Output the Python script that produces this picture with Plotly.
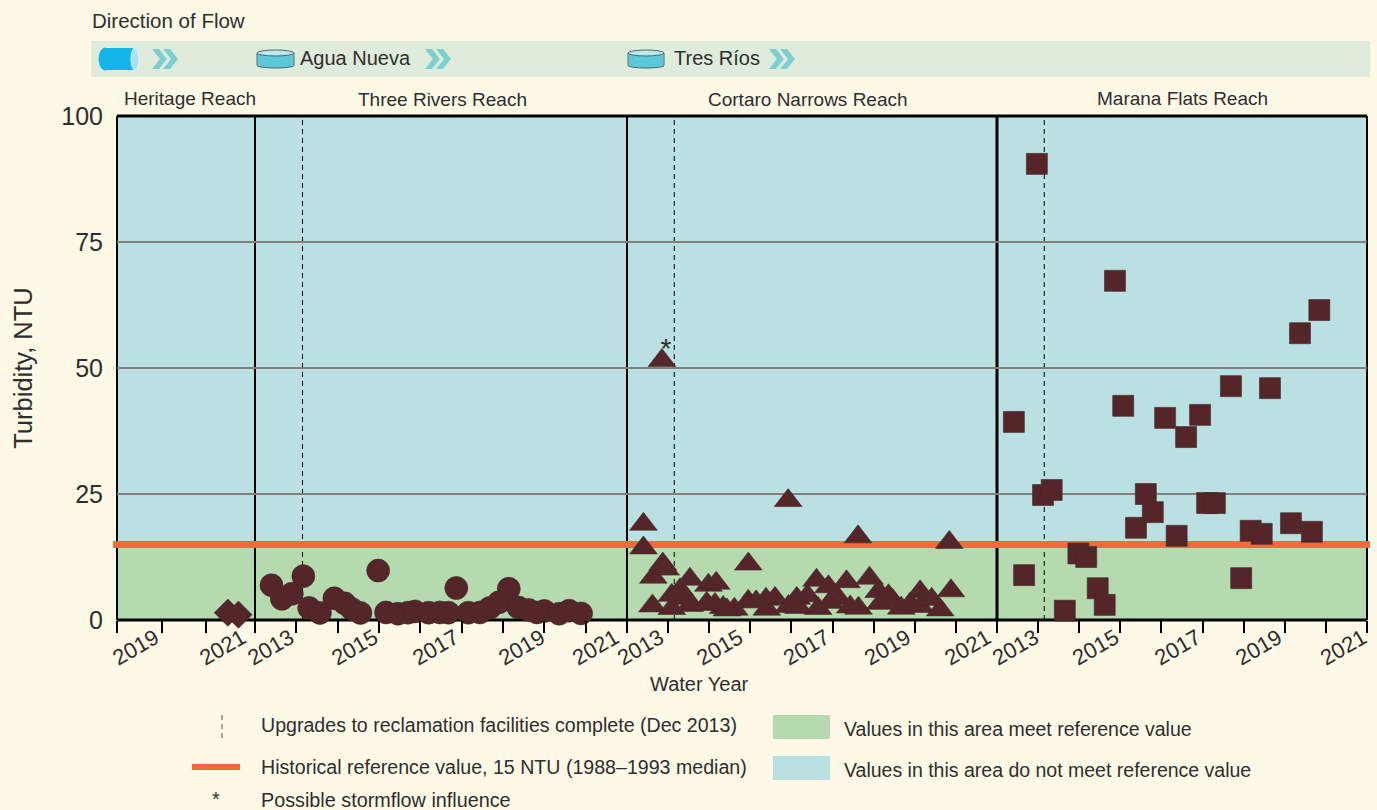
import plotly.graph_objects as go

# ---------- data ----------
y_ticks = [0, 25, 50, 75, 100]
reference_value = 15
upgrade_year = 2014.15

heritage_x = [2021.41, 2021.64]
heritage_y = [1.45, 1.05]

three_rivers_x = [2013.40, 2013.65, 2013.89, 2014.17, 2014.31, 2014.57, 2014.92, 2015.17, 2015.34, 2015.55,
                  2015.98, 2016.17, 2016.46, 2016.70, 2016.87, 2017.20, 2017.47, 2017.68, 2017.87, 2018.16,
                  2018.44, 2018.68, 2018.90, 2019.14, 2019.37, 2019.62, 2019.82, 2020.00, 2020.36, 2020.60, 2020.89]
three_rivers_y = [6.9, 4.2, 5.2, 8.7, 2.4, 1.4, 4.3, 3.3, 2.2, 1.4,
                  9.8, 1.5, 1.25, 1.45, 1.7, 1.45, 1.5, 1.45, 6.35, 1.45,
                  1.5, 2.4, 3.5, 6.2, 2.5, 2.0, 1.5, 1.8, 1.25, 1.85, 1.3]

cortaro_x = [2013.40, 2013.40, 2013.62, 2013.64, 2013.85, 2013.87, 2013.94, 2014.09, 2014.09, 2014.29,
             2014.45, 2014.53, 2014.53, 2014.94, 2014.98, 2015.14, 2015.17, 2015.34, 2015.43, 2015.61,
             2015.95, 2015.95, 2016.14, 2016.38, 2016.40, 2016.60, 2016.92, 2016.93, 2017.13, 2017.17,
             2017.39, 2017.61, 2017.65, 2017.90, 2017.94, 2018.14, 2018.34, 2018.43, 2018.62, 2018.63,
             2018.90, 2019.12, 2019.16, 2019.36, 2019.46, 2019.67, 2019.89, 2020.13, 2020.13, 2020.41,
             2020.62, 2020.84, 2020.88]
cortaro_y = [19.0, 14.3, 2.8, 8.5, 51.5, 11.1, 10.1, 4.9, 2.3, 6.0,
             4.3, 8.1, 2.9, 3.3, 6.9, 3.1, 7.3, 2.5, 2.0, 2.15,
             3.7, 11.1, 3.6, 4.1, 2.15, 4.3, 23.7, 2.7, 4.3, 2.5,
             4.8, 7.9, 2.3, 6.6, 3.5, 4.3, 7.6, 2.6, 16.5, 2.35,
             8.3, 5.65, 3.3, 4.8, 3.9, 2.35, 3.2, 5.6, 2.7, 4.1,
             2.0, 15.4, 5.8]

marana_x = [2013.41, 2013.66, 2013.97, 2014.12, 2014.33, 2014.65, 2014.98, 2015.17, 2015.45, 2015.62,
            2015.87, 2016.07, 2016.38, 2016.62, 2016.79, 2017.09, 2017.37, 2017.60, 2017.94, 2018.11,
            2018.30, 2018.69, 2018.94, 2019.17, 2019.44, 2019.64, 2020.15, 2020.37, 2020.66, 2020.84]
marana_y = [39.3, 8.9, 90.5, 24.8, 25.8, 1.85, 13.2, 12.5, 6.3, 3.0,
            67.3, 42.5, 18.3, 25.0, 21.4, 40.1, 16.7, 36.3, 40.7, 23.2,
            23.2, 46.4, 8.3, 17.7, 17.1, 46.0, 19.2, 56.9, 17.5, 61.5]

storm_x = [2013.95]
storm_y = [53.4]
storm_label = ["*"]

heritage_labels = ["2019", "2021"]
reach_labels = ["2013", "2015", "2017", "2019", "2021"]
reach_names = ["Heritage Reach", "Three Rivers Reach", "Cortaro Narrows Reach", "Marana Flats Reach"]

# ---------- geometry helpers ----------
W, H = 1377, 810
BG = "#fef8e7"
BLUE = "#bae0e1"
GREEN = "#b5dab0"
ORANGE = "#f4673f"
MARK = "#542629"
MARK_LINE = "#44282b"
TXT = "#2e2e2e"
SANS = "Liberation Sans"
PL, PR, PT, PB = 117, 1367, 116, 620

def fx(p): return p / W
def fy(p): return 1 - p / H

def rect(x0, y0, x1, y1, color, layer="below"):
    return dict(type="rect", xref="paper", yref="paper", x0=fx(x0), x1=fx(x1), y0=fy(y0), y1=fy(y1),
                fillcolor=color, line=dict(width=0), layer=layer)

def seg(x0, y0, x1, y1, color="black", width=2, dash="solid"):
    return dict(type="line", xref="paper", yref="paper", x0=fx(x0), x1=fx(x1), y0=fy(y0), y1=fy(y1),
                line=dict(color=color, width=width, dash=dash), layer="below")

def poly(pts, color, line=None, width=0):
    path = "M" + " L".join(f"{fx(a):.5f},{fy(b):.5f}" for a, b in pts) + " Z"
    return dict(type="path", xref="paper", yref="paper", path=path, fillcolor=color,
                line=dict(color=line or color, width=width), layer="below")

def oval(x0, y0, x1, y1, color, line, width=1):
    return dict(type="circle", xref="paper", yref="paper", x0=fx(x0), x1=fx(x1), y0=fy(y0), y1=fy(y1),
                fillcolor=color, line=dict(color=line, width=width), layer="below")

def chevrons(x, top=49, bot=69, color="#7dd0cf"):
    m = (top + bot) / 2
    out = []
    for dx in (0, 11):
        a = x + dx
        out.append(poly([(a, top), (a + 7, top), (a + 15, m), (a + 7, bot), (a, bot), (a + 8, m)], color))
    return out

def cylinder(x0, x1, top=50, bot=68):
    return [
        oval(x0, bot - 5, x1, bot, "#5ec8da", "#47696f"),
        rect(x0 + 0.5, top + 3, x1 - 0.5, bot - 2.5, "#5ec8da"),
        seg(x0, top + 3, x0, bot - 2.5, "#47696f", 1),
        seg(x1, top + 3, x1, bot - 2.5, "#47696f", 1),
        oval(x0, top, x1, top + 6, "#bfe6ea", "#47696f"),
    ]

def text(x, y, s, size=18, anchor="left", font=SANS, color=TXT):
    return dict(xref="paper", yref="paper", x=fx(x), y=fy(y), text=s, showarrow=False, xanchor=anchor,
                yanchor="middle", font=dict(family=font, size=size, color=color), borderpad=0)

# ---------- shapes, in paint order ----------
shapes = [
    rect(PL, PT, PR, 544, BLUE),
    rect(PL, 544, PR, PB, GREEN),
    rect(91, 41, 1370, 77, "#dfecdc"),
]
# flow band icons
shapes += [
    rect(104, 48, 135, 70, "#14b5e8"),
    oval(99, 48, 111, 70, "#14b5e8", "#14b5e8"),
    oval(131, 48, 139, 70, "#a9e2f5", "#e8f7fb", 1),
]
shapes += chevrons(152) + chevrons(425) + chevrons(769)
shapes += cylinder(257, 294) + cylinder(628, 664)

# frame
shapes += [seg(PL, PT, PR, PT, width=3), seg(PL, PB, PR, PB, width=3),
           seg(PL, PT, PL, PB), seg(PR, PT, PR, PB),
           seg(255, PT, 255, PB), seg(627, PT, 627, PB), seg(997, PT, 997, PB, width=3)]
# upgrade markers
for ax in ("x2", "x3", "x4"):
    shapes.append(dict(type="line", xref=ax, yref="paper", x0=upgrade_year, x1=upgrade_year,
                       y0=fy(PB), y1=fy(PT), line=dict(color="black", width=1, dash="5px,4px"), layer="below"))
# reference line
shapes.append(dict(type="line", xref="paper", yref="y", x0=fx(113), x1=fx(1370),
                   y0=reference_value, y1=reference_value, line=dict(color=ORANGE, width=7), layer="below"))
# legend swatches
shapes += [
    seg(222, 715, 222, 742, "#555555", 1, "5px,4px"),
    rect(192, 764, 240, 770, ORANGE),
    rect(773, 715, 830, 739, GREEN),
    rect(773, 756, 830, 780, BLUE),
]

# ---------- text ----------
annotations = [
    text(91, 20, "Direction of Flow", 20.5),
    text(299, 58, "Agua Nueva", 20),
    text(673, 58, "Tres Ríos", 20),
    text(190, 98, reach_names[0], 19, "center"),
    text(442, 99, reach_names[1], 19, "center"),
    text(808, 99, reach_names[2], 19, "center"),
    text(1182, 98, reach_names[3], 19, "center"),
    text(699, 684, "Water Year", 20, "center"),
    text(260, 725, "Upgrades to reclamation facilities complete (Dec 2013)", 19.6),
    text(260, 767, "Historical reference value, 15 NTU (1988–1993 median)", 19.6),
    text(260, 800, "Possible stormflow influence", 19.8),
    text(843, 729, "Values in this area meet reference value", 19.5),
    text(843, 770, "Values in this area do not meet reference value", 19.5),
    text(216, 799, "*", 20, "center"),
]

# ---------- traces ----------
def pts(x, y, axis, symbol, size, name):
    return go.Scatter(x=x, y=y, xaxis=axis, yaxis="y", mode="markers", name=name, cliponaxis=False,
                      marker=dict(symbol=symbol, size=size, color=MARK, line=dict(color=MARK_LINE, width=0.6)))

fig = go.Figure([
    pts(heritage_x, heritage_y, "x", "diamond", 21, reach_names[0]),
    pts(three_rivers_x, three_rivers_y, "x2", "circle", 23, reach_names[1]),
    pts(cortaro_x, cortaro_y, "x3", "triangle-up", 24, reach_names[2]),
    pts(marana_x, marana_y, "x4", "square", 21, reach_names[3]),
    go.Scatter(x=storm_x, y=storm_y, xaxis="x3", yaxis="y", mode="text", text=storm_label,
               textfont=dict(family=SANS, size=28, color=TXT), cliponaxis=False, textposition="middle center"),
])

# ---------- axes ----------
def xax(domain, rng, minor_vals, label_vals, labels):
    return dict(
        domain=[fx(domain[0]), fx(domain[1])], range=rng, anchor="y", showgrid=False, zeroline=False,
        showline=False, automargin=False, tickmode="array", tickvals=label_vals, ticktext=labels, ticks="",
        tickangle=-30, tickfont=dict(family=SANS, size=22, color=TXT),
        minor=dict(tickmode="array", tickvals=minor_vals, ticks="outside", ticklen=12, tickwidth=2,
                   tickcolor="black", showgrid=False),
    )

y2013 = list(range(2013, 2023))
fig.update_layout(
    width=W, height=H, autosize=False, margin=dict(l=0, r=0, t=0, b=0),
    paper_bgcolor=BG, plot_bgcolor="rgba(0,0,0,0)", showlegend=False,
    shapes=shapes, annotations=annotations,
    xaxis=xax((117, 255), [2019, 2022], [2019, 2019.98, 2020.93, 2022], [2019.83, 2021.72], heritage_labels),
    xaxis2=xax((255, 627), [2013, 2022], y2013, [2013.85, 2015.88, 2017.84, 2019.92, 2021.71], reach_labels),
    xaxis3=xax((627, 997), [2013, 2022], y2013, [2013.80, 2015.73, 2017.84, 2019.81, 2021.76], reach_labels),
    xaxis4=xax((997, 1367), [2013, 2022], y2013, [2013.92, 2015.87, 2017.87, 2019.84, 2021.90], reach_labels),
    yaxis=dict(domain=[fy(PB), fy(PT)], range=[0, 100], anchor="x", automargin=False, tickmode="array", tickvals=y_ticks,
               showgrid=True, gridcolor="#808080", gridwidth=2, zeroline=False, showline=False, ticks="",
               tickfont=dict(family=SANS, size=25, color=TXT), ticklabelstandoff=13,
               title=dict(text="Turbidity, NTU", font=dict(family=SANS, size=25.5, color=TXT), standoff=21)),
)

fig.write_html("out.html", config=dict(displayModeBar=False),
               post_script="document.body.style.margin='0';document.body.style.background='%s';document.body.style.overflow='hidden';" % BG)
